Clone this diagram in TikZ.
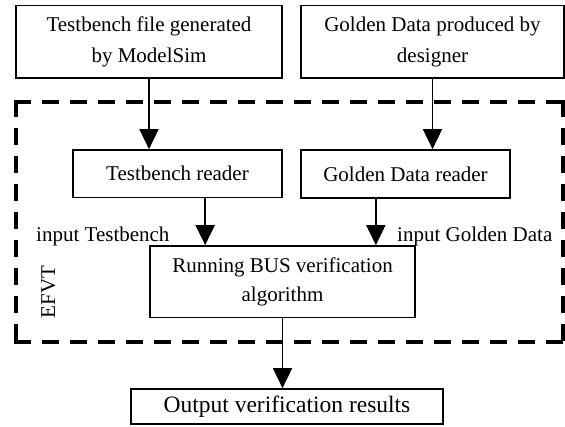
\documentclass[tikz,border=0pt]{standalone}
\usepackage{fontspec}
\setmainfont{Liberation Serif}
\usetikzlibrary{arrows.meta}

\tikzset{
  box/.style={draw, line width=1.7pt, inner sep=0pt, align=center,
    font=\fontsize{21}{31}\selectfont},
  arr/.style={line width=1.8pt, -{Triangle[width=19pt,length=20pt]}},
  label/.style={inner sep=0pt, font=\fontsize{21}{27}\selectfont},
  frame/.style={line width=3.6pt, line cap=rect, dash pattern=on 13pt off 15pt},
}

\begin{document}
\begin{tikzpicture}[x=1pt, y=-1pt]
  \useasboundingbox (0,0) rectangle (565,426);

  % sources
  \node[box, minimum width=266pt, minimum height=72.5pt] (src1) at (149,41.75)
    {Testbench file generated\\by ModelSim};
  \node[box, minimum width=263pt, minimum height=72.5pt] (src2) at (432.5,41.75)
    {Golden Data produced by\\designer};

  % EFVT frame corners
  \coordinate (tl) at (16,102);
  \coordinate (tr) at (563,102);
  \coordinate (bl) at (16,342);
  \coordinate (br) at (563,342);
  \draw[frame] (tl) -- (tr);
  \draw[frame] (tl) -- (bl);
  \draw[frame] (bl) -- (br);
  \draw[frame] (tr) -- (br);
  \node[label, rotate=90, anchor=base] (efvt) at (55,292) {EFVT};

  % readers
  \node[box, minimum width=209pt, minimum height=47.5pt] (tbr) at (177.5,173.75)
    {Testbench reader};
  \node[box, minimum width=209pt, minimum height=48pt] (gdr) at (405.5,174)
    {Golden Data reader};

  % verification
  \node[box, minimum width=265pt, minimum height=71.5pt,
        font=\fontsize{21}{29}\selectfont] (run) at (282.5,281.75)
    {Running BUS verification\\algorithm};

  % output
  \node[box, minimum width=312pt, minimum height=35pt,
        font=\fontsize{23.5}{28}\selectfont] (out) at (287,406.5)
    {Output verification results};

  % labels on the inputs
  \node[label, anchor=base west] (lin1) at (36,241) {input Testbench};
  \node[label, anchor=base west] (lin2) at (397,241) {input Golden Data};

  % connectors
  \draw[arr] (src1.south) -- (src1.south |- tbr.north);
  \draw[arr] (src2.south) -- (src2.south |- gdr.north);
  \draw[arr] ([xshift=133pt]tbr.south west) -- ([xshift=133pt]tbr.south west |- run.north);
  \draw[arr] ([xshift=75.7pt]gdr.south west) -- ([xshift=75.7pt]gdr.south west |- run.north);
  \draw[arr] (run.south) -- (run.south |- out.north);
\end{tikzpicture}
\end{document}
